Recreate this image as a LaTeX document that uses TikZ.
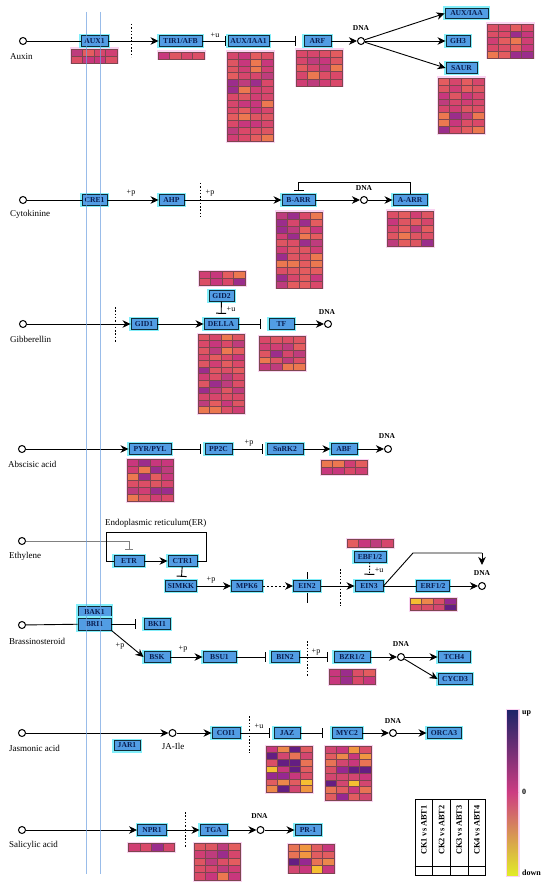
\documentclass[tikz,border=0pt]{standalone}
\usepackage{fontspec}
\setmainfont{Liberation Serif}
\usetikzlibrary{arrows.meta}
\definecolor{boxfill}{RGB}{82,157,228}
\definecolor{boxline}{RGB}{15,45,55}
\definecolor{boxtext}{RGB}{10,30,80}
\definecolor{halo}{RGB}{130,238,250}
\definecolor{vline}{RGB}{110,160,225}
\definecolor{hhalo}{RGB}{250,212,242}
\definecolor{hgrid}{RGB}{125,70,80}
\definecolor{hA0}{RGB}{236,120,80}
\definecolor{hA1}{RGB}{228,92,95}
\definecolor{hA2}{RGB}{220,78,102}
\definecolor{hA3}{RGB}{214,70,108}
\definecolor{hA4}{RGB}{208,62,116}
\definecolor{hA5}{RGB}{200,55,125}
\definecolor{hA6}{RGB}{222,85,98}
\definecolor{hA7}{RGB}{190,60,125}
\definecolor{hA8}{RGB}{155,45,140}
\definecolor{hA9}{RGB}{218,72,105}
\definecolor{hY0}{RGB}{245,190,50}
\definecolor{hY1}{RGB}{240,150,65}
\definecolor{hY2}{RGB}{232,115,85}
\definecolor{hY3}{RGB}{218,78,102}
\definecolor{hY4}{RGB}{200,55,125}
\definecolor{hY5}{RGB}{150,40,145}
\definecolor{hY6}{RGB}{236,135,75}
\definecolor{hY7}{RGB}{210,70,112}
\definecolor{hY8}{RGB}{100,30,130}
\definecolor{hY9}{RGB}{225,92,96}
\definecolor{cbnavy}{RGB}{30,35,105}
\definecolor{cbpurp}{RGB}{110,30,150}
\definecolor{cbmag}{RGB}{205,60,130}
\definecolor{cbor}{RGB}{235,130,80}
\definecolor{cbyel}{RGB}{225,235,40}
\newcommand{\hmap}[5]{%
  \fill[hhalo] ({#1-1.5},{#2-1.5}) rectangle ({#1+47.5},{#2+#3*#4+1.5});
  \foreach \hr in {1,...,#3}{\foreach \hc in {1,...,4}{%
    \pgfmathrandominteger{\hk}{0}{9}%
    \filldraw[fill=#5\hk, draw=hgrid, line width=0.35pt] ({#1+(\hc-1)*11.5},{#2+(\hr-1)*#4}) rectangle ++(11.5,#4);
  }}%
  \draw[hgrid, line width=0.5pt] (#1,#2) rectangle ++(46,{#3*#4});
}
\tikzset{
  gene/.style={draw=boxline, line width=0.9pt, fill=boxfill, text=boxtext,
    font=\bfseries\fontsize{7.6}{8}\selectfont, inner sep=0pt, minimum height=10.5pt,
    preaction={draw=halo, line width=3.5pt}},
  plain/.style={line width=0.9pt},
  act/.style={line width=0.9pt, -{Stealth[length=8pt,width=7.5pt,inset=2.5pt]}},
  inh/.style={line width=0.9pt, -{Bar[width=10pt,line width=1pt]}},
  dotact/.style={act, dash pattern=on 2pt off 2pt},
  dotinh/.style={inh, dash pattern=on 1.5pt off 1.5pt},
  dotv/.style={line width=1pt, dash pattern=on 1.5pt off 1.8pt},
  dnac/.style={circle, draw, line width=1pt, fill=white, inner sep=0pt, minimum size=7pt},
  hor/.style={font=\fontsize{9}{10}\selectfont, anchor=west, inner sep=0pt},
  dnat/.style={font=\bfseries\fontsize{7.5}{8}\selectfont, inner sep=0pt},
  modt/.style={font=\fontsize{8}{9}\selectfont, inner sep=0pt},
  legt/.style={font=\bfseries\fontsize{8.3}{9}\selectfont, inner sep=0pt, rotate=90},
}
\begin{document}
\begin{tikzpicture}[x=1pt,y=-1pt]
\pgfmathsetseed{4217}
\fill[white] (0,0) rectangle (550,885);
\useasboundingbox (0,0) rectangle (550,885);

% ---------- Auxin ----------
\node[dnac] (c1) at (23,41) {};
\node[hor] (tAux) at (10,57) {Auxin};
\hmap{71}{49}{2}{7}{hA}
\hmap{158}{52}{1}{7}{hA}
\hmap{227}{52}{13}{6.85}{hA}
\hmap{296}{50}{5}{7.2}{hA}
\hmap{487}{24}{5}{6.8}{hA}
\hmap{438}{78}{8}{6.9}{hA}
\node[gene, minimum width=27pt] (aux1) at (94.5,41) {AUX1};
\node[gene, minimum width=43pt] (tir1) at (180.5,41) {TIR1/AFB};
\node[gene, minimum width=41pt] (auxiaa1) at (248.5,41) {AUX/IAA1};
\node[gene, minimum width=27pt] (arf) at (317.5,41) {ARF};
\node[dnac] (dna1) at (361,41) {};
\node[dnat] (dl1) at (361,28.5) {DNA};
\node[gene, minimum width=43pt] (auxiaa) at (466.5,13.5) {AUX/IAA};
\node[gene, minimum width=24pt] (gh3) at (458,41) {GH3};
\node[gene, minimum width=31pt] (saur) at (461.5,68) {SAUR};
\node[modt] (m1) at (215,35) {+u};
\draw[plain] (c1) -- (aux1);
\draw[act] (aux1) -- (tir1);
\draw[inh, shorten >=2pt] (tir1) -- (auxiaa1);
\draw[inh, shorten >=8pt] (auxiaa1) -- (arf);
\draw[act] (arf) -- (dna1);
\draw[act] (dna1) -- (auxiaa.west);
\draw[act] (dna1) -- (gh3);
\draw[act] (dna1) -- (saur.west);
\draw[dotv] (131,24) -- (131,57);

% ---------- Cytokinine ----------
\node[dnac] (c2) at (23,200) {};
\node[hor] (tCyt) at (10,214) {Cytokinine};
\hmap{276}{212}{11}{6.9}{hA}
\hmap{387}{211}{5}{7}{hA}
\node[gene, minimum width=25pt] (cre1) at (94.5,200) {CRE1};
\node[gene, minimum width=25pt] (ahp) at (171.5,200) {AHP};
\node[gene, minimum width=33pt] (barr) at (298.5,200) {B-ARR};
\node[dnac] (dna2) at (364,200) {};
\node[dnat] (dl2) at (364,188) {DNA};
\node[gene, minimum width=34pt] (aarr) at (410,200) {A-ARR};
\node[modt] (m2) at (131,193) {+p};
\node[modt] (m3) at (210,193) {+p};
\draw[plain] (c2) -- (cre1);
\draw[act] (cre1) -- (ahp);
\draw[act] (ahp) -- (barr);
\draw[act] (barr) -- (dna2);
\draw[act] (dna2) -- (aarr);
\draw[inh, shorten >=3pt] (aarr.north) -- ++(0,-12) -| (barr.north);
\draw[dotv] (200,183) -- (200,217);

% ---------- Gibberellin ----------
\node[dnac] (c3) at (23,324) {};
\node[hor] (tGib) at (10,339) {Gibberellin};
\hmap{199}{271}{2}{7}{hA}
\hmap{198}{334}{12}{6.6}{hA}
\hmap{259}{336}{5}{6.9}{hA}
\node[gene, minimum width=26pt] (gid1) at (144,324) {GID1};
\node[gene, minimum width=25pt] (gid2) at (221.5,296) {GID2};
\node[gene, minimum width=34pt] (della) at (221,324) {DELLA};
\node[gene, minimum width=25pt] (tf) at (281.5,324) {TF};
\node[dnac] (dna3) at (328,324) {};
\node[dnat] (dl3) at (327,312.5) {DNA};
\node[modt] (m4) at (231,309) {+u};
\draw[act] (c3) -- (gid1);
\draw[act] (gid1) -- (della);
\draw[inh, shorten >=4.5pt] (gid2) -- (della);
\draw[inh, shorten >=8pt] (della) -- (tf);
\draw[act] (tf) -- (dna3);
\draw[dotv] (115,307) -- (115,342);

% ---------- Abscisic acid ----------
\node[dnac] (c4) at (22,449) {};
\node[hor] (tAba) at (8,464) {Abscisic acid};
\hmap{127}{459}{6}{7}{hA}
\hmap{321}{460}{2}{7}{hA}
\node[gene, minimum width=42pt] (pyr) at (150,449) {PYR/PYL};
\node[gene, minimum width=27pt] (pp2c) at (218.5,449) {PP2C};
\node[gene, minimum width=36pt] (snrk2) at (285,449) {SnRK2};
\node[gene, minimum width=26pt] (abf) at (344,449) {ABF};
\node[dnac] (dna4) at (388,449) {};
\node[dnat] (dl4) at (387,436.5) {DNA};
\node[modt] (m5) at (249,443) {+p};
\draw[act] (c4) -- (pyr);
\draw[inh, shorten >=4pt] (pyr) -- (pp2c);
\draw[inh, shorten >=4pt] (pp2c) -- (snrk2);
\draw[act] (snrk2) -- (abf);
\draw[act] (abf) -- (dna4);

% ---------- Ethylene ----------
\node[dnac] (c5) at (22,541) {};
\node[hor] (tEth) at (9,556) {Ethylene};
\node[hor] (tER) at (105,523) {Endoplasmic reticulum(ER)};
\hmap{347}{539}{1}{8}{hA}
\hmap{410}{598}{2}{6}{hY}
\draw[plain] (307,572) -- (307,603);
\node[gene, minimum width=30pt] (etr) at (129,561) {ETR};
\node[gene, minimum width=29pt] (ctr1) at (182.5,561) {CTR1};
\node[gene, minimum width=31pt] (simkk) at (181,586) {SIMKK};
\node[gene, minimum width=31pt] (mpk6) at (247,586) {MPK6};
\node[gene, minimum width=27pt] (ein2) at (307,586) {EIN2};
\node[gene, minimum width=28pt] (ein3) at (369,586) {EIN3};
\node[gene, minimum width=32pt] (ebf) at (370,557) {EBF1/2};
\node[gene, minimum width=33pt] (erf) at (433,586) {ERF1/2};
\node[dnac] (dna5) at (482,586) {};
\node[dnat] (dl5) at (482,573) {DNA};
\node[modt] (m6) at (211,580) {+p};
\node[modt] (m7) at (379,570) {+u};
\coordinate (erl) at (106,532);
\coordinate (err) at (206,532);
\coordinate (e1) at (413,553);
\coordinate (e2) at (482,553);
\coordinate (e3) at (482,565);
\draw[gray, line width=0.6pt, -{Bar[width=8pt,line width=0.8pt]}, shorten >=6pt] (c5) -| (etr.north);
\draw[plain] (etr.west) -| (erl) -- (err) |- (ctr1.east);
\draw[act] (etr) -- (ctr1);
\draw[inh, shorten >=3.5pt] (ctr1) -- (simkk);
\draw[act] (simkk) -- (mpk6);
\draw[dotact] (mpk6) -- (ein2);
\draw[act] (ein2) -- (ein3);
\draw[dotinh, shorten >=5.5pt] (ebf) -- (ein3);
\draw[plain] (ein3) -- (erf);
\draw[act] (erf) -- (dna5);
\draw[plain] (ein3.east) -- (e1) -- (e2);
\draw[act] (e2) -- (e3);
\draw[dotv] (340,569) -- (340,606);

% ---------- Brassinosteroid ----------
\node[dnac] (c6) at (22,625) {};
\node[hor] (tBr) at (9,641) {Brassinosteroid};
\hmap{329}{669}{2}{7.5}{hA}
\node[gene, minimum width=33pt, minimum height=12pt] (bak1) at (94.5,612) {BAK1};
\node[gene, minimum width=33pt, minimum height=12pt] (bri1) at (94.5,624) {BRI1};
\node[gene, minimum width=26pt] (bki1) at (157,624) {BKI1};
\node[gene, minimum width=26pt] (bsk) at (157,657) {BSK};
\node[gene, minimum width=33pt] (bsu1) at (219.5,657) {BSU1};
\node[gene, minimum width=28pt] (bin2) at (285,657) {BIN2};
\node[gene, minimum width=36pt] (bzr) at (352,657) {BZR1/2};
\node[dnac] (dna6) at (401,657) {};
\node[dnat] (dl6) at (401,644) {DNA};
\node[gene, minimum width=32pt] (tch4) at (454,657) {TCH4};
\node[gene, minimum width=34pt] (cycd3) at (455,679) {CYCD3};
\node[modt] (m8) at (120,646) {+p};
\node[modt] (m9) at (183,649) {+p};
\node[modt] (m10) at (316,652) {+p};
\draw[plain] (c6) -- (bri1);
\draw[inh, shorten >=8pt] (bri1) -- (bki1);
\draw[act] (bri1.south east) -- (bsk.west);
\draw[act] (bsk) -- (bsu1);
\draw[inh, shorten >=5pt] (bsu1) -- (bin2);
\draw[inh, shorten >=6pt] (bin2) -- (bzr);
\draw[act] (bzr) -- (dna6);
\draw[act] (dna6) -- (tch4);
\draw[act] (dna6) -- (cycd3.west);
\draw[dotv] (307,641) -- (307,676);

% ---------- Jasmonic acid ----------
\node[dnac] (c7) at (22,733) {};
\node[hor] (tJa) at (9,748) {Jasmonic acid};
\hmap{266}{746}{7}{6.6}{hY}
\hmap{325}{746}{8}{6.75}{hY}
\node[gene, minimum width=26pt] (jar1) at (127,745.5) {JAR1};
\node[dnac] (jaile) at (172.5,733) {};
\node[font=\fontsize{9}{10}\selectfont, inner sep=0pt] (tJaIle) at (173,746) {JA-Ile};
\node[gene, minimum width=28pt] (coi1) at (226,733) {COI1};
\node[gene, minimum width=26pt] (jaz) at (287,733) {JAZ};
\node[gene, minimum width=30pt] (myc2) at (347,733) {MYC2};
\node[dnac] (dna7) at (393,733) {};
\node[dnat] (dl7) at (393,721) {DNA};
\node[gene, minimum width=34pt] (orca3) at (444,733) {ORCA3};
\node[modt] (m11) at (259,726) {+u};
\draw[act] (c7) -- (jaile);
\draw[act] (jaile) -- (coi1);
\draw[inh, shorten >=4pt] (coi1) -- (jaz);
\draw[inh, shorten >=9pt] (jaz) -- (myc2);
\draw[act] (myc2) -- (dna7);
\draw[act] (dna7) -- (orca3);
\draw[dotv] (249,716) -- (249,753);

% ---------- Salicylic acid ----------
\node[dnac] (c8) at (22,830) {};
\node[hor] (tSa) at (9,845) {Salicylic acid};
\hmap{128.5}{843}{1}{8}{hA}
\hmap{194}{843}{5}{7.4}{hA}
\hmap{288}{844}{4}{7.2}{hY}
\node[gene, minimum width=29pt] (npr1) at (152,830) {NPR1};
\node[gene, minimum width=27pt] (tga) at (213.5,830) {TGA};
\node[dnac] (dna8) at (260.5,830) {};
\node[dnat] (dl8) at (259.5,816) {DNA};
\node[gene, minimum width=26pt] (pr1) at (308,830) {PR-1};
\draw[act] (c8) -- (npr1);
\draw[act] (npr1) -- (tga);
\draw[act] (tga) -- (dna8);
\draw[act] (dna8) -- (pr1);
\draw[dotv] (185,812) -- (185,848);

% ---------- Legend table ----------
\foreach \i/\t in {0/CK1 vs ABT1,1/CK2 vs ABT2,2/CK3 vs ABT3,3/CK4 vs ABT4}{
  \node[draw, line width=0.9pt, minimum width=17.7pt, minimum height=76pt, inner sep=0pt] (leg\i) at ({423.85+\i*17.7},837) {};
  \node[legt] (legt\i) at ({423.85+\i*17.7},830) {\t};
}
\draw[line width=0.9pt] (leg0.west |- 0,866) -- (leg3.east |- 0,866);

% ---------- Colour bar ----------
\fill[hhalo] (505.5,708.5) rectangle (519.5,876.5);
\shade[top color=cbnavy, middle color=cbpurp, bottom color=cbmag] (507,710) rectangle (518,792.5);
\shade[top color=cbmag, middle color=cbor, bottom color=cbyel] (507,792) rectangle (518,875);
\node[font=\bfseries\fontsize{8}{9}\selectfont, inner sep=0pt, anchor=west] (cbup) at (522,713) {up};
\node[font=\bfseries\fontsize{8}{9}\selectfont, inner sep=0pt, anchor=west] (cbzero) at (522,792) {0};
\node[font=\bfseries\fontsize{8}{9}\selectfont, inner sep=0pt, anchor=west] (cbdown) at (522,873) {down};

% ---------- vertical blue lines ----------
\draw[vline, line width=0.6pt, opacity=0.7] (86,12) -- (86,874);
\draw[vline, line width=0.6pt, opacity=0.7] (100,12) -- (100,874);
\end{tikzpicture}
\end{document}
